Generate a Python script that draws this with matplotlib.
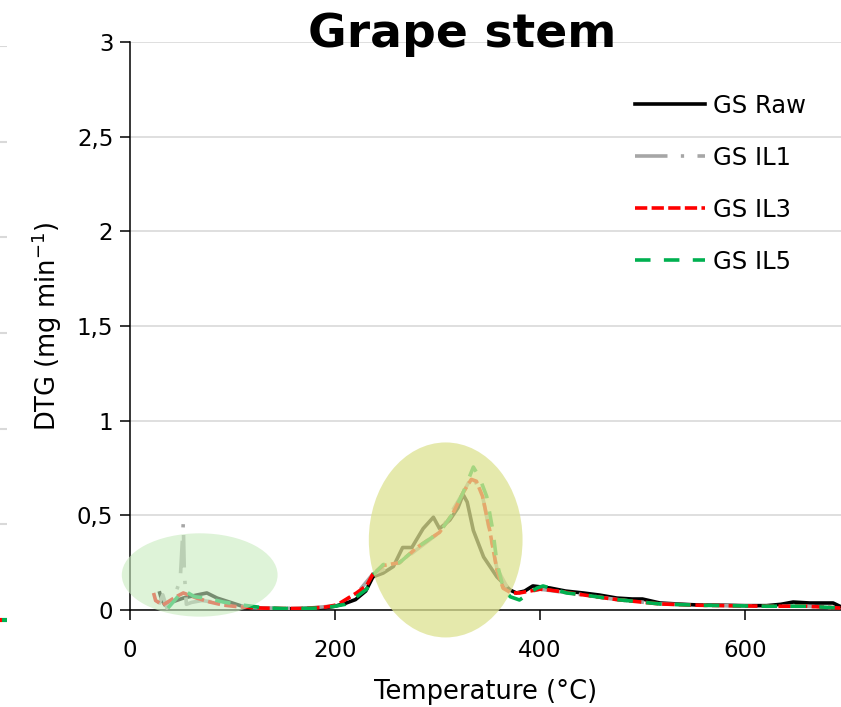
import matplotlib
matplotlib.use("Agg")
import matplotlib.pyplot as plt
from matplotlib.patches import Ellipse

# ---- data ----
raw_x = [29, 31, 34, 41, 52, 65, 75, 85, 97, 114, 130, 150, 170, 190, 200, 210, 220, 230,
         237, 247, 257, 266, 275, 286, 296, 302, 312, 320, 325, 329, 335, 345, 358, 371,
         377, 385, 393, 410, 425, 442, 458, 475, 490, 500, 517, 540, 556, 580, 600, 621,
         635, 647, 663, 686, 694]
raw_y = [0.09, 0.053, 0.026, 0.042, 0.063, 0.079, 0.09, 0.063, 0.042, 0.012, 0.008, 0.006,
         0.008, 0.012, 0.02, 0.035, 0.055, 0.1, 0.175, 0.195, 0.23, 0.33, 0.33, 0.43, 0.49,
         0.43, 0.475, 0.54, 0.61, 0.57, 0.42, 0.28, 0.175, 0.105, 0.09, 0.10, 0.127, 0.116,
         0.10, 0.09, 0.079, 0.063, 0.058, 0.058, 0.037, 0.03, 0.026, 0.025, 0.023, 0.023,
         0.03, 0.042, 0.037, 0.037, 0.016]

il1_x = [28, 32, 36, 42, 49, 52, 53, 55, 60, 70, 85, 100, 120, 130, 170, 200, 221, 237,
         263, 302, 325, 334, 344, 358, 371, 385, 400, 442, 475, 517, 556, 621, 660, 694]
il1_y = [0.03, 0.08, 0.01, 0.05, 0.16, 0.46, 0.2, 0.03, 0.04, 0.05, 0.04, 0.025, 0.012,
         0.01, 0.008, 0.022, 0.085, 0.19, 0.25, 0.41, 0.62, 0.71, 0.6, 0.22, 0.09, 0.09,
         0.11, 0.08, 0.055, 0.032, 0.025, 0.02, 0.02, 0.01]

il3_x = [23, 25, 32, 45, 52, 65, 78, 91, 107, 130, 150, 170, 190, 200, 205, 221, 231, 237,
         247, 263, 280, 302, 315, 325, 333, 338, 344, 351, 358, 364, 372, 380, 390, 400,
         410, 442, 475, 517, 556, 621, 660, 694]
il3_y = [0.09, 0.05, 0.026, 0.07, 0.09, 0.063, 0.042, 0.026, 0.016, 0.01, 0.008, 0.008,
         0.015, 0.025, 0.037, 0.09, 0.13, 0.19, 0.235, 0.25, 0.33, 0.41, 0.51, 0.62, 0.69,
         0.68, 0.6, 0.42, 0.21, 0.115, 0.09, 0.09, 0.10, 0.11, 0.105, 0.08, 0.055, 0.032,
         0.025, 0.02, 0.02, 0.01]

il5_x = [37, 45, 52, 63, 75, 91, 110, 130, 150, 170, 190, 200, 210, 221, 231, 237, 247,
         263, 280, 302, 315, 325, 335, 341, 348, 354, 358, 364, 371, 380, 390, 397, 403,
         426, 442, 475, 517, 556, 621, 660, 694]
il5_y = [0.01, 0.06, 0.105, 0.07, 0.063, 0.042, 0.026, 0.012, 0.008, 0.008, 0.012, 0.02,
         0.03, 0.07, 0.11, 0.185, 0.24, 0.25, 0.33, 0.41, 0.51, 0.62, 0.755, 0.70, 0.60,
         0.42, 0.25, 0.12, 0.07, 0.053, 0.09, 0.116, 0.127, 0.09, 0.08, 0.055, 0.032,
         0.025, 0.02, 0.02, 0.01]

labels = ["GS Raw", "GS IL1", "GS IL3", "GS IL5"]

# highlighted regions: (center x, center y, width, height)
zone_low = (68, 0.185, 152, 0.44)
zone_peak = (308, 0.37, 150, 1.03)

# neighbour chart remnant at the left edge
side_grid = [1, 2, 3, 4, 5, 6]

plt.rcParams["font.family"] = ["DejaVu Sans"]
plt.rcParams["mathtext.fontset"] = "dejavusans"

fig = plt.figure(figsize=(8.41, 7.07), dpi=100)
ax = fig.add_axes([130 / 841, 1 - 610 / 707, 1 - 130 / 841, 568 / 707])

lw = 2.6
ax.plot(raw_x, raw_y, color="black", lw=lw, label=labels[0], zorder=2)
ax.plot(il1_x, il1_y, color="#a6a6a6", lw=lw, dashes=(9, 3.7, 0.9, 3.7),
        label=labels[1], zorder=3)
ax.plot(il3_x, il3_y, color="#ff0000", lw=lw, dashes=(3.4, 1.2), label=labels[2], zorder=4)
ax.plot(il5_x, il5_y, color="#00b050", lw=lw, dashes=(4.3, 3.7), label=labels[3], zorder=5)

for (cx, cy, w, h), col, a in [(zone_low, "#c8ebbe", 0.6), (zone_peak, "#dde291", 0.75)]:
    ax.add_patch(Ellipse((cx, cy), w, h, facecolor=col, edgecolor="none", alpha=a,
                         zorder=6, clip_on=False))

ax.set_xlim(0, 693.7)
ax.set_ylim(0, 3)
ax.set_xticks([0, 200, 400, 600])
ax.set_yticks([0, 0.5, 1, 1.5, 2, 2.5, 3])
ax.set_yticklabels(["0", "0,5", "1", "1,5", "2", "2,5", "3"])
ax.grid(axis="y", color="#d9d9d9", lw=1.2, zorder=0)
ax.set_axisbelow(True)
for s in ["top", "right"]:
    ax.spines[s].set_visible(False)
for s in ["left", "bottom"]:
    ax.spines[s].set_linewidth(1.1)
ax.tick_params(axis="both", direction="out", length=7, width=1.1, labelsize=16.5)
ax.tick_params(axis="y", pad=5)
ax.tick_params(axis="x", pad=14)

ax.set_xlabel("Temperature (°C)", fontsize=18.5, labelpad=12)
ax.set_ylabel(r"DTG (mg min$^{\mathregular{-1}}$)", fontsize=18.5, labelpad=9)

fig.text(0.55, 1 - 47 / 707, "Grape stem", fontsize=34, fontweight="bold",
         ha="center", va="baseline")

ax.legend(loc="upper left", bbox_to_anchor=(635 / 841, 1 - 94 / 707),
          bbox_transform=fig.transFigure, frameon=False, fontsize=17.5,
          handlelength=2.9, handletextpad=0.3, labelspacing=1.15,
          borderpad=0, borderaxespad=0)

# sliver of the neighbouring chart
side = fig.add_axes([0, 1 - 620 / 707, 7 / 841, 574 / 707])
side.set_xlim(0, 1)
side.set_ylim(0, 6)
for g in side_grid:
    side.axhline(g, color="#d9d9d9", lw=1.5)
side.plot([0, 0.3], [0, 0], color="#ff0000", lw=3, solid_capstyle="butt", clip_on=False)
side.plot([0.3, 1], [0, 0], color="#00b050", lw=3, solid_capstyle="butt", clip_on=False)
side.axis("off")

fig.savefig("out.png", dpi=100)
